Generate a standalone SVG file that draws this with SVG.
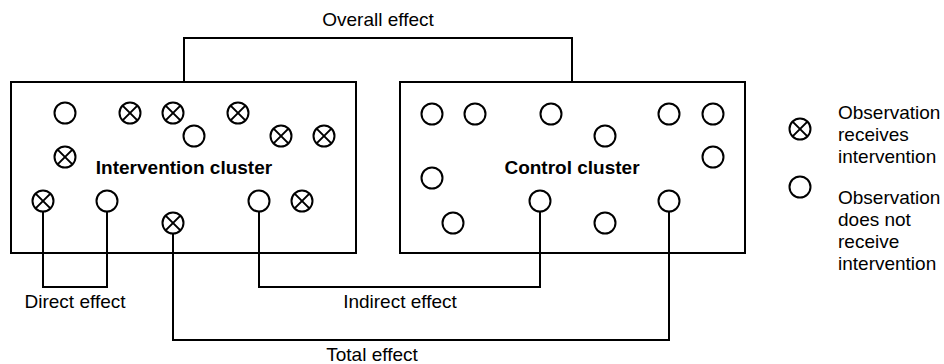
<svg xmlns="http://www.w3.org/2000/svg" width="944" height="364" viewBox="0 0 944 364">
<defs>
<style>
.box{fill:#fff;stroke:#000;stroke-width:2}
.c{fill:#fff;stroke:#000;stroke-width:2}
.x{stroke:#000;stroke-width:2;fill:none}
.ln{fill:none;stroke:#000;stroke-width:2}
.t{font-family:"Liberation Sans",Arial,sans-serif;font-size:19px;fill:#000}
.b{font-family:"Liberation Sans",Arial,sans-serif;font-size:19px;font-weight:bold;fill:#000}
</style>
<g id="obs">
<circle class="c" r="10.5"/>
</g>
<g id="xobs">
<circle class="c" r="10.5"/>
<path class="x" d="M-7.4,-7.4L7.4,7.4M-7.4,7.4L7.4,-7.4"/>
</g>
</defs>
<g id="intervention-cluster">
<rect class="box" x="11" y="82" width="345" height="171"/>
<text class="b" x="184" y="174" text-anchor="middle">Intervention cluster</text>
</g>
<g id="control-cluster">
<rect class="box" x="400" y="82" width="345" height="171"/>
<text class="b" x="572" y="174" text-anchor="middle">Control cluster</text>
</g>
<g id="connectors">
<path class="ln" d="M184,82V38H572V82"/>
<path class="ln" d="M43,212V287H107V212"/>
<path class="ln" d="M259,212V287H540V212"/>
<path class="ln" d="M173,234V340H669V212"/>
</g>
<g id="intervention-observations">
<use href="#obs" x="65" y="113"/>
<use href="#xobs" x="130" y="113"/>
<use href="#xobs" x="173" y="113"/>
<use href="#obs" x="194" y="136"/>
<use href="#xobs" x="238" y="113"/>
<use href="#xobs" x="281" y="136"/>
<use href="#xobs" x="324" y="136"/>
<use href="#xobs" x="65" y="157"/>
<use href="#xobs" x="43" y="201"/>
<use href="#obs" x="107" y="201"/>
<use href="#xobs" x="173" y="223"/>
<use href="#obs" x="259" y="201"/>
<use href="#xobs" x="302" y="201"/>
</g>
<g id="control-observations">
<use href="#obs" x="432" y="114"/>
<use href="#obs" x="475" y="114"/>
<use href="#obs" x="551" y="114"/>
<use href="#obs" x="605" y="136"/>
<use href="#obs" x="669" y="114"/>
<use href="#obs" x="713" y="114"/>
<use href="#obs" x="713" y="157"/>
<use href="#obs" x="432" y="178"/>
<use href="#obs" x="453" y="223"/>
<use href="#obs" x="540" y="201"/>
<use href="#obs" x="605" y="223"/>
<use href="#obs" x="669" y="201"/>
</g>
<g id="labels">
<text class="t" x="378" y="26" text-anchor="middle">Overall effect</text>
<text class="t" x="75" y="308" text-anchor="middle">Direct effect</text>
<text class="t" x="400" y="308" text-anchor="middle">Indirect effect</text>
<text class="t" x="372" y="361" text-anchor="middle">Total effect</text>
</g>
<g id="legend-receives">
<use href="#xobs" x="800" y="129"/>
<text class="t" x="838" y="119">Observation</text>
<text class="t" x="838" y="141">receives</text>
<text class="t" x="838" y="163">intervention</text>
</g>
<g id="legend-not-receive">
<use href="#obs" x="800" y="187"/>
<text class="t" x="838" y="204">Observation</text>
<text class="t" x="838" y="226">does not</text>
<text class="t" x="838" y="248">receive</text>
<text class="t" x="838" y="270">intervention</text>
</g>
</svg>
